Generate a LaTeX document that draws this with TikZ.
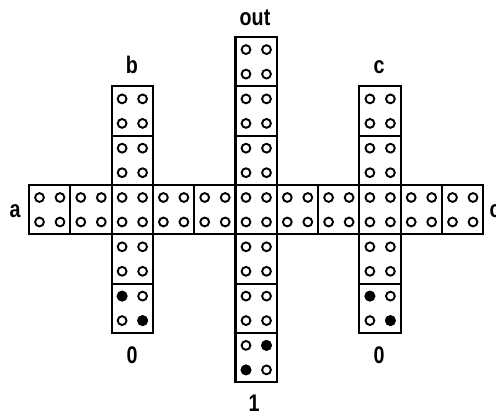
\documentclass[tikz,border=0pt]{standalone}
\usepackage{fontspec}
\setmainfont{Liberation Sans}
\usetikzlibrary{positioning,calc}

\begin{document}
\begin{tikzpicture}[x=1pt,y=-1pt,
    cellbox/.style={draw, line width=2.1pt},
    hole/.style={draw, line width=1.9pt, fill=white},
    pin/.style={fill=black},
    lbl/.style={font=\bfseries\fontsize{24}{24}\selectfont, xscale=0.82, anchor=base, inner sep=0pt}]
    \useasboundingbox (0,0) rectangle (496,415);

    % horizontal row a -- c
    \foreach \i in {0,...,10} {
        \coordinate (h\i) at (29+41.3*\i,185);
        \draw[cellbox] (h\i) rectangle ++(41.3,49.3);
        \foreach \dx in {10.5,31} \foreach \dy in {12.5,37}
            \draw[hole] (h\i) ++(\dx,\dy) circle (4.4);
    }

    % column b
    \foreach \j in {-2,-1,1,2} {
        \coordinate (b\j) at (111.6,185+49.3*\j);
        \draw[cellbox] (b\j) rectangle ++(41.3,49.3);
        \foreach \dx in {10.5,31} \foreach \dy in {12.5,37}
            \draw[hole] (b\j) ++(\dx,\dy) circle (4.4);
    }

    % column out
    \foreach \j in {-3,-2,-1,1,2,3} {
        \coordinate (o\j) at (235.5,185+49.3*\j);
        \draw[cellbox] (o\j) rectangle ++(41.3,49.3);
        \foreach \dx in {10.5,31} \foreach \dy in {12.5,37}
            \draw[hole] (o\j) ++(\dx,\dy) circle (4.4);
    }

    % column c
    \foreach \j in {-2,-1,1,2} {
        \coordinate (c\j) at (359.4,185+49.3*\j);
        \draw[cellbox] (c\j) rectangle ++(41.3,49.3);
        \foreach \dx in {10.5,31} \foreach \dy in {12.5,37}
            \draw[hole] (c\j) ++(\dx,\dy) circle (4.4);
    }

    % pins
    \fill[pin] (b2) ++(10.5,12.5) circle (5.4);
    \fill[pin] (b2) ++(31,37) circle (5.4);
    \fill[pin] (c2) ++(10.5,12.5) circle (5.4);
    \fill[pin] (c2) ++(31,37) circle (5.4);
    \fill[pin] (o3) ++(31,12.5) circle (5.4);
    \fill[pin] (o3) ++(10.5,37) circle (5.4);

    % labels
    \node[lbl] (la) at (15,217) {a};
    \node[lbl] (lc) at (495,217) {c};
    \node[lbl] (lb) at (132,73) {b};
    \node[lbl] (lout) at (255,25) {out};
    \node[lbl] (lcc) at (379,73) {c};
    \node[lbl] (lb0) at (132,363) {0};
    \node[lbl] (lout1) at (254,411) {1};
    \node[lbl] (lc0) at (379,363) {0};
\end{tikzpicture}
\end{document}
